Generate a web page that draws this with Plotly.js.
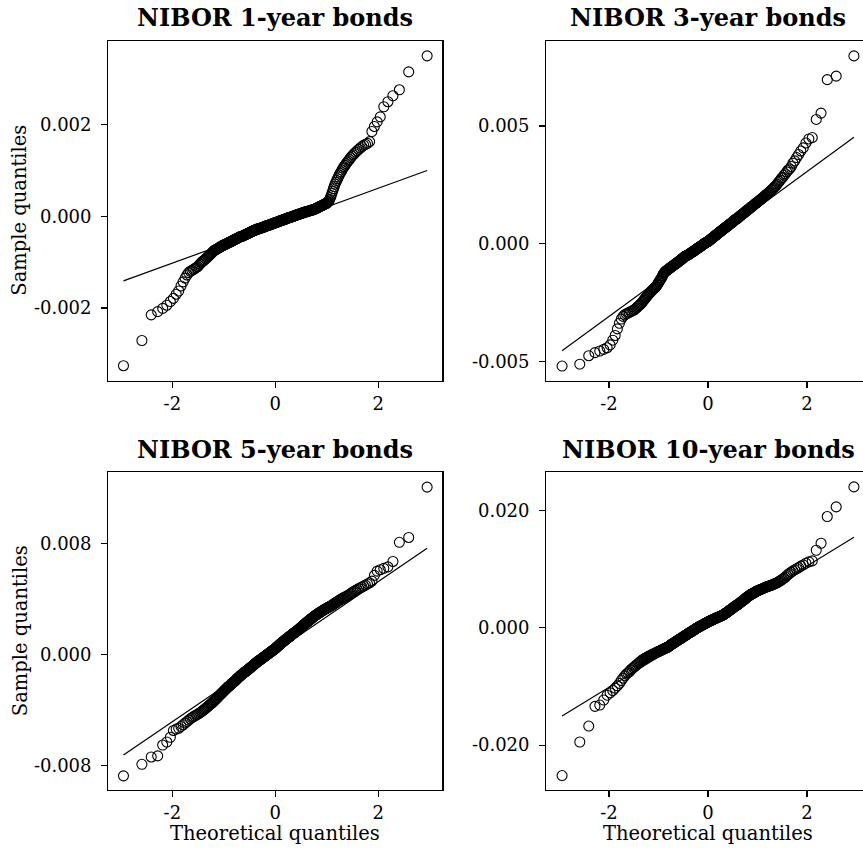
<!DOCTYPE html>
<html>
<head>
<meta charset="utf-8">
<script src="https://cdn.plot.ly/plotly-3.0.1.min.js"></script>
<style>
  html, body { margin: 0; padding: 0; overflow: hidden; background: #fff; }
  #chart { width: 880px; height: 852px; }
</style>
</head>
<body>
<div id="chart"></div>
<script>
// Sorted daily changes (sample quantiles), in units of 1e-5.
const nibor1y = [
  -326,-271,-215,-208,-201,-194,-186,-179,-170,-163,
  -152,-143,-135,-128,-123,-120,-118,-116,-114,-112,
  -110,-107,-104,-101,-99,-97,-95,-93,-91,-89,
  -87,-85,-83,-81,-79,-77,-75,-74,-73,-72,
  -71,-70,-69,-68,-67,-66,-65,-64,-64,-63,
  -62,-61,-61,-60,-59,-59,-58,-57,-57,-56,
  -55,-55,-54,-53,-53,-52,-51,-51,-50,-49,
  -49,-48,-48,-47,-46,-46,-45,-45,-44,-44,
  -44,-43,-43,-42,-42,-41,-41,-40,-40,-39,
  -39,-38,-38,-37,-37,-36,-36,-35,-35,-34,
  -34,-33,-33,-32,-32,-31,-31,-30,-30,-30,
  -29,-29,-29,-28,-28,-28,-27,-27,-27,-26,
  -26,-26,-25,-25,-25,-24,-24,-24,-23,-23,
  -23,-22,-22,-22,-21,-21,-21,-20,-20,-20,
  -19,-19,-19,-18,-18,-18,-17,-17,-17,-16,
  -16,-16,-15,-15,-15,-14,-14,-14,-13,-13,
  -13,-12,-12,-12,-11,-11,-11,-10,-10,-10,
  -9,-9,-9,-8,-8,-8,-7,-7,-7,-6,
  -6,-6,-5,-5,-5,-4,-4,-4,-3,-3,
  -3,-2,-2,-2,-1,-1,-1,0,0,0,
  1,1,1,2,2,2,3,3,3,4,
  4,5,5,5,6,6,6,7,7,7,
  8,8,8,9,9,9,10,10,10,11,
  11,11,12,12,12,13,13,13,14,14,
  14,15,15,16,16,17,17,18,19,19,
  20,21,21,22,23,23,24,25,25,26,
  27,27,28,29,30,32,34,37,41,45,
  50,55,60,65,70,74,78,82,86,90,
  94,97,101,105,108,111,115,118,121,124,
  128,131,134,137,140,143,146,149,152,155,
  157,159,163,185,196,206,217,239,250,263,
  276,315,350
];

const nibor3y = [
  -520,-512,-476,-463,-456,-449,-442,-430,-410,-390,
  -362,-338,-320,-309,-302,-298,-295,-292,-289,-286,
  -283,-281,-276,-272,-267,-263,-259,-255,-250,-245,
  -240,-235,-230,-226,-221,-216,-213,-209,-206,-202,
  -198,-196,-192,-190,-186,-184,-180,-176,-172,-166,
  -162,-158,-153,-149,-145,-139,-134,-129,-125,-122,
  -119,-117,-115,-113,-111,-110,-108,-106,-105,-103,
  -101,-99,-98,-96,-95,-93,-91,-90,-88,-87,
  -85,-84,-82,-80,-79,-77,-76,-74,-73,-71,
  -70,-68,-67,-65,-63,-62,-60,-58,-57,-55,
  -54,-53,-52,-51,-50,-49,-48,-47,-46,-45,
  -44,-43,-41,-40,-39,-38,-37,-35,-34,-33,
  -32,-31,-29,-28,-27,-26,-25,-23,-22,-21,
  -20,-19,-17,-16,-15,-14,-13,-11,-10,-9,
  -8,-7,-5,-4,-3,-2,-1,1,2,3,
  4,5,6,7,8,9,10,10,12,13,
  15,16,17,19,20,21,23,24,26,27,
  28,30,31,33,34,35,37,38,39,41,
  42,44,45,46,48,49,50,52,53,55,
  56,57,59,60,61,63,64,66,67,68,
  70,71,73,74,75,76,78,80,81,83,
  85,85,86,88,90,91,93,95,96,98,
  100,101,103,105,105,106,108,110,111,113,
  115,117,118,120,122,123,125,127,128,130,
  132,133,135,138,140,142,143,145,147,148,
  150,152,155,157,159,160,162,164,167,169,
  170,174,175,177,180,182,184,187,189,192,
  194,197,199,202,206,207,211,213,217,221,
  223,227,231,235,239,243,247,253,259,265,
  270,278,282,291,297,305,313,318,328,342,
  352,366,379,394,407,428,445,451,528,555,
  697,712,798
];

const nibor5y = [
  -873,-790,-737,-729,-651,-629,-595,-546,-536,-530,
  -517,-505,-492,-482,-471,-462,-454,-447,-440,-435,
  -430,-425,-418,-412,-406,-399,-393,-387,-381,-374,
  -368,-362,-356,-353,-346,-339,-335,-328,-324,-317,
  -310,-306,-299,-295,-288,-284,-277,-273,-269,-262,
  -258,-254,-248,-244,-241,-234,-231,-227,-224,-221,
  -217,-210,-207,-204,-200,-197,-193,-190,-187,-183,
  -177,-173,-170,-167,-163,-160,-156,-153,-150,-146,
  -143,-140,-137,-134,-131,-129,-126,-123,-121,-118,
  -115,-112,-110,-107,-104,-101,-99,-96,-93,-90,
  -88,-85,-82,-79,-77,-74,-71,-68,-66,-63,
  -60,-57,-55,-52,-50,-48,-45,-43,-41,-39,
  -36,-34,-32,-30,-27,-25,-23,-21,-18,-16,
  -14,-12,-9,-7,-5,-2,0,2,4,7,
  9,11,13,16,18,20,22,25,27,29,
  31,34,36,38,40,43,45,48,50,53,
  56,58,61,64,66,69,72,74,77,80,
  82,85,87,90,92,95,97,100,102,104,
  107,109,112,114,117,119,121,124,126,129,
  131,134,136,138,141,143,146,148,151,153,
  156,158,160,163,165,168,170,173,175,178,
  180,183,186,189,192,195,198,201,204,207,
  210,213,216,219,222,225,228,231,234,237,
  240,243,246,249,252,255,258,261,264,267,
  270,273,276,280,283,285,288,291,294,297,
  300,302,305,308,311,314,316,319,322,325,
  328,330,333,336,339,342,344,347,350,353,
  356,360,364,368,372,376,380,384,388,392,
  396,400,404,408,412,416,420,424,428,434,
  440,446,452,458,464,470,476,482,488,495,
  502,510,518,530,572,602,612,622,633,672,
  810,845,1208
];

const nibor10y = [
  -2520,-1948,-1676,-1340,-1318,-1232,-1150,-1110,-1070,-1030,
  -990,-950,-900,-860,-820,-790,-770,-750,-720,-700,
  -680,-665,-645,-630,-615,-600,-585,-570,-555,-545,
  -535,-525,-515,-508,-500,-492,-486,-478,-472,-465,
  -458,-452,-445,-440,-434,-428,-422,-416,-411,-405,
  -401,-397,-389,-385,-381,-373,-369,-365,-361,-357,
  -353,-345,-341,-337,-333,-329,-320,-315,-309,-304,
  -293,-287,-282,-276,-271,-265,-260,-254,-249,-243,
  -238,-232,-227,-221,-216,-210,-204,-199,-193,-190,
  -188,-182,-177,-171,-166,-160,-155,-149,-144,-138,
  -135,-133,-127,-122,-116,-111,-105,-100,-95,-92,
  -88,-83,-79,-74,-70,-65,-61,-56,-52,-47,
  -43,-38,-34,-29,-25,-20,-16,-11,-7,-2,
  2,6,10,14,18,21,25,29,32,36,
  40,44,47,51,55,58,62,66,69,73,
  77,80,84,88,92,96,100,103,106,110,
  113,116,119,122,125,128,131,135,138,141,
  144,147,150,154,157,160,163,166,169,172,
  175,178,182,185,188,191,194,197,200,204,
  207,210,213,216,221,226,230,235,240,245,
  250,255,259,264,269,274,280,286,292,298,
  303,307,312,318,324,330,336,342,348,354,
  359,365,371,377,380,383,389,395,402,408,
  415,421,428,435,441,448,454,461,468,474,
  481,487,494,507,514,520,527,534,540,547,
  553,560,569,574,579,583,588,592,602,607,
  611,621,625,630,637,640,644,651,654,661,
  665,672,675,682,689,693,700,703,710,714,
  717,724,731,738,745,752,759,766,780,790,
  800,815,828,845,860,885,910,928,948,968,
  985,1005,1025,1050,1070,1100,1122,1140,1320,1440,
  1895,2060,2400
];

// Reference-line end values (at the smallest and largest normal score).
const fitLine1y = [-0.00141, 0.00100];
const fitLine3y = [-0.00455, 0.00452];
const fitLine5y = [-0.00723, 0.00767];
const fitLine10y = [-0.01505, 0.01541];

const panelTitles = ["NIBOR 1-year bonds", "NIBOR 3-year bonds", "NIBOR 5-year bonds", "NIBOR 10-year bonds"];
const xTickVals = [-2, 0, 2];
const xTickText = ["-2", "0", "2"];
const yTickVals1y = [-0.002, 0, 0.002];
const yTickText1y = ["-0.002", "0.000", "0.002"];
const yTickVals3y = [-0.005, 0, 0.005];
const yTickText3y = ["-0.005", "0.000", "0.005"];
const yTickVals5y = [-0.008, 0, 0.008];
const yTickText5y = ["-0.008", "0.000", "0.008"];
const yTickVals10y = [-0.02, 0, 0.02];
const yTickText10y = ["-0.020", "0.000", "0.020"];
const xLabel = "Theoretical quantiles";
const yLabel = "Sample quantiles";

// Inverse standard normal CDF (Acklam's rational approximation).
function normInv(p) {
  const a = [-3.969683028665376e+01, 2.209460984245205e+02, -2.759285104469687e+02,
             1.383577518672690e+02, -3.066479806614716e+01, 2.506628277459239e+00];
  const b = [-5.447609879822406e+01, 1.615858368580409e+02, -1.556989798598866e+02,
             6.680131188771972e+01, -1.328068155288572e+01];
  const c = [-7.784894002430293e-03, -3.223964580411365e-01, -2.400758277161838e+00,
             -2.549732539343734e+00, 4.374664141464968e+00, 2.938163982698783e+00];
  const d = [7.784695709041462e-03, 3.224671290700398e-01, 2.445134137142996e+00,
             3.754408661907416e+00];
  const pl = 0.02425, ph = 1 - pl;
  let q, r;
  if (p < pl) {
    q = Math.sqrt(-2 * Math.log(p));
    return (((((c[0]*q+c[1])*q+c[2])*q+c[3])*q+c[4])*q+c[5]) / ((((d[0]*q+d[1])*q+d[2])*q+d[3])*q+1);
  } else if (p <= ph) {
    q = p - 0.5; r = q * q;
    return (((((a[0]*r+a[1])*r+a[2])*r+a[3])*r+a[4])*r+a[5])*q / (((((b[0]*r+b[1])*r+b[2])*r+b[3])*r+b[4])*r+1);
  } else {
    q = Math.sqrt(-2 * Math.log(1 - p));
    return -(((((c[0]*q+c[1])*q+c[2])*q+c[3])*q+c[4])*q+c[5]) / ((((d[0]*q+d[1])*q+d[2])*q+d[3])*q+1);
  }
}

// Normal scores for plotting positions (i - 0.5) / n.
function normalScores(n) {
  const out = [];
  for (let i = 1; i <= n; i++) out.push(normInv((i - 0.5) / n));
  return out;
}

const W = 880, H = 852;
const serif = "DejaVu Serif, Liberation Serif, serif";

// Plot boxes in pixels: [left, right, top, bottom]
const boxes = [
  [108.3, 442.3, 40.7, 380.7],
  [546.3, 869.7, 40.7, 380.7],
  [108.3, 442.3, 472.3, 790.0],
  [546.3, 869.7, 472.3, 790.0]
];
const xRanges = [[-3.243, 3.243], [-3.267, 3.267], [-3.243, 3.243], [-3.267, 3.267]];
const yRanges = [[-0.003587, 0.003831], [-0.005822, 0.008626], [-0.009751, 0.013146], [-0.02766, 0.02649]];
const samples = [nibor1y, nibor3y, nibor5y, nibor10y];
const fitLines = [fitLine1y, fitLine3y, fitLine5y, fitLine10y];
const yTicks = [[yTickVals1y, yTickText1y], [yTickVals3y, yTickText3y], [yTickVals5y, yTickText5y], [yTickVals10y, yTickText10y]];

const traces = [];
const layout = {
  width: W, height: H,
  margin: {l: 0, r: 0, t: 0, b: 0},
  paper_bgcolor: "#fff", plot_bgcolor: "#fff",
  showlegend: false,
  font: {family: serif, color: "#000"},
  annotations: []
};

samples.forEach((vals, k) => {
  const xs = normalScores(vals.length);
  const ys = vals.map(v => v * 1e-5);
  const ax = k === 0 ? "" : String(k + 1);
  traces.push({
    type: "scatter", mode: "markers", x: xs, y: ys,
    xaxis: "x" + ax, yaxis: "y" + ax,
    marker: {symbol: "circle-open", size: 10, color: "#000", line: {width: 1.1, color: "#000"}},
    hoverinfo: "skip"
  });
  traces.push({
    type: "scatter", mode: "lines",
    x: [xs[0], xs[xs.length - 1]], y: fitLines[k],
    xaxis: "x" + ax, yaxis: "y" + ax,
    line: {color: "#000", width: 1.2},
    hoverinfo: "skip"
  });

  const [L, R, T, B] = boxes[k];
  const common = {
    showline: true, mirror: true, linecolor: "#000", linewidth: 1.2,
    ticks: "outside", ticklen: 6, tickwidth: 1.1, tickcolor: "#000",
    showgrid: false, zeroline: false,
    tickfont: {family: serif, size: 18, color: "#000"}
  };
  layout["xaxis" + ax] = Object.assign({}, common, {
    domain: [L / W, R / W], range: xRanges[k],
    anchor: "y" + ax,
    tickmode: "array", tickvals: xTickVals, ticktext: xTickText
  });
  layout["yaxis" + ax] = Object.assign({}, common, {
    domain: [1 - B / H, 1 - T / H], range: yRanges[k],
    anchor: "x" + ax, ticklabelstandoff: 6,
    tickmode: "array", tickvals: yTicks[k][0], ticktext: yTicks[k][1]
  });

  // Panel title
  layout.annotations.push({
    text: "<b>" + panelTitles[k] + "</b>",
    xref: "paper", yref: "paper",
    x: ((L + R) / 2) / W, y: 1 - (T - 23) / H,
    xanchor: "center", yanchor: "middle", showarrow: false,
    font: {family: serif, size: 24, color: "#000"}
  });
  // Axis labels on the outer panels
  if (k >= 2) {
    layout.annotations.push({
      text: xLabel, xref: "paper", yref: "paper",
      x: ((L + R) / 2) / W, y: 1 - 833 / H,
      xanchor: "center", yanchor: "middle", showarrow: false,
      font: {family: serif, size: 19.5, color: "#000"}
    });
  }
  if (k % 2 === 0) {
    layout.annotations.push({
      text: yLabel, xref: "paper", yref: "paper",
      x: 20 / W, y: 1 - ((T + B) / 2) / H,
      xanchor: "center", yanchor: "middle", textangle: -90, showarrow: false,
      font: {family: serif, size: 19.5, color: "#000"}
    });
  }
});

Plotly.newPlot("chart", traces, layout, {displayModeBar: false, staticPlot: true});
</script>
</body>
</html>
